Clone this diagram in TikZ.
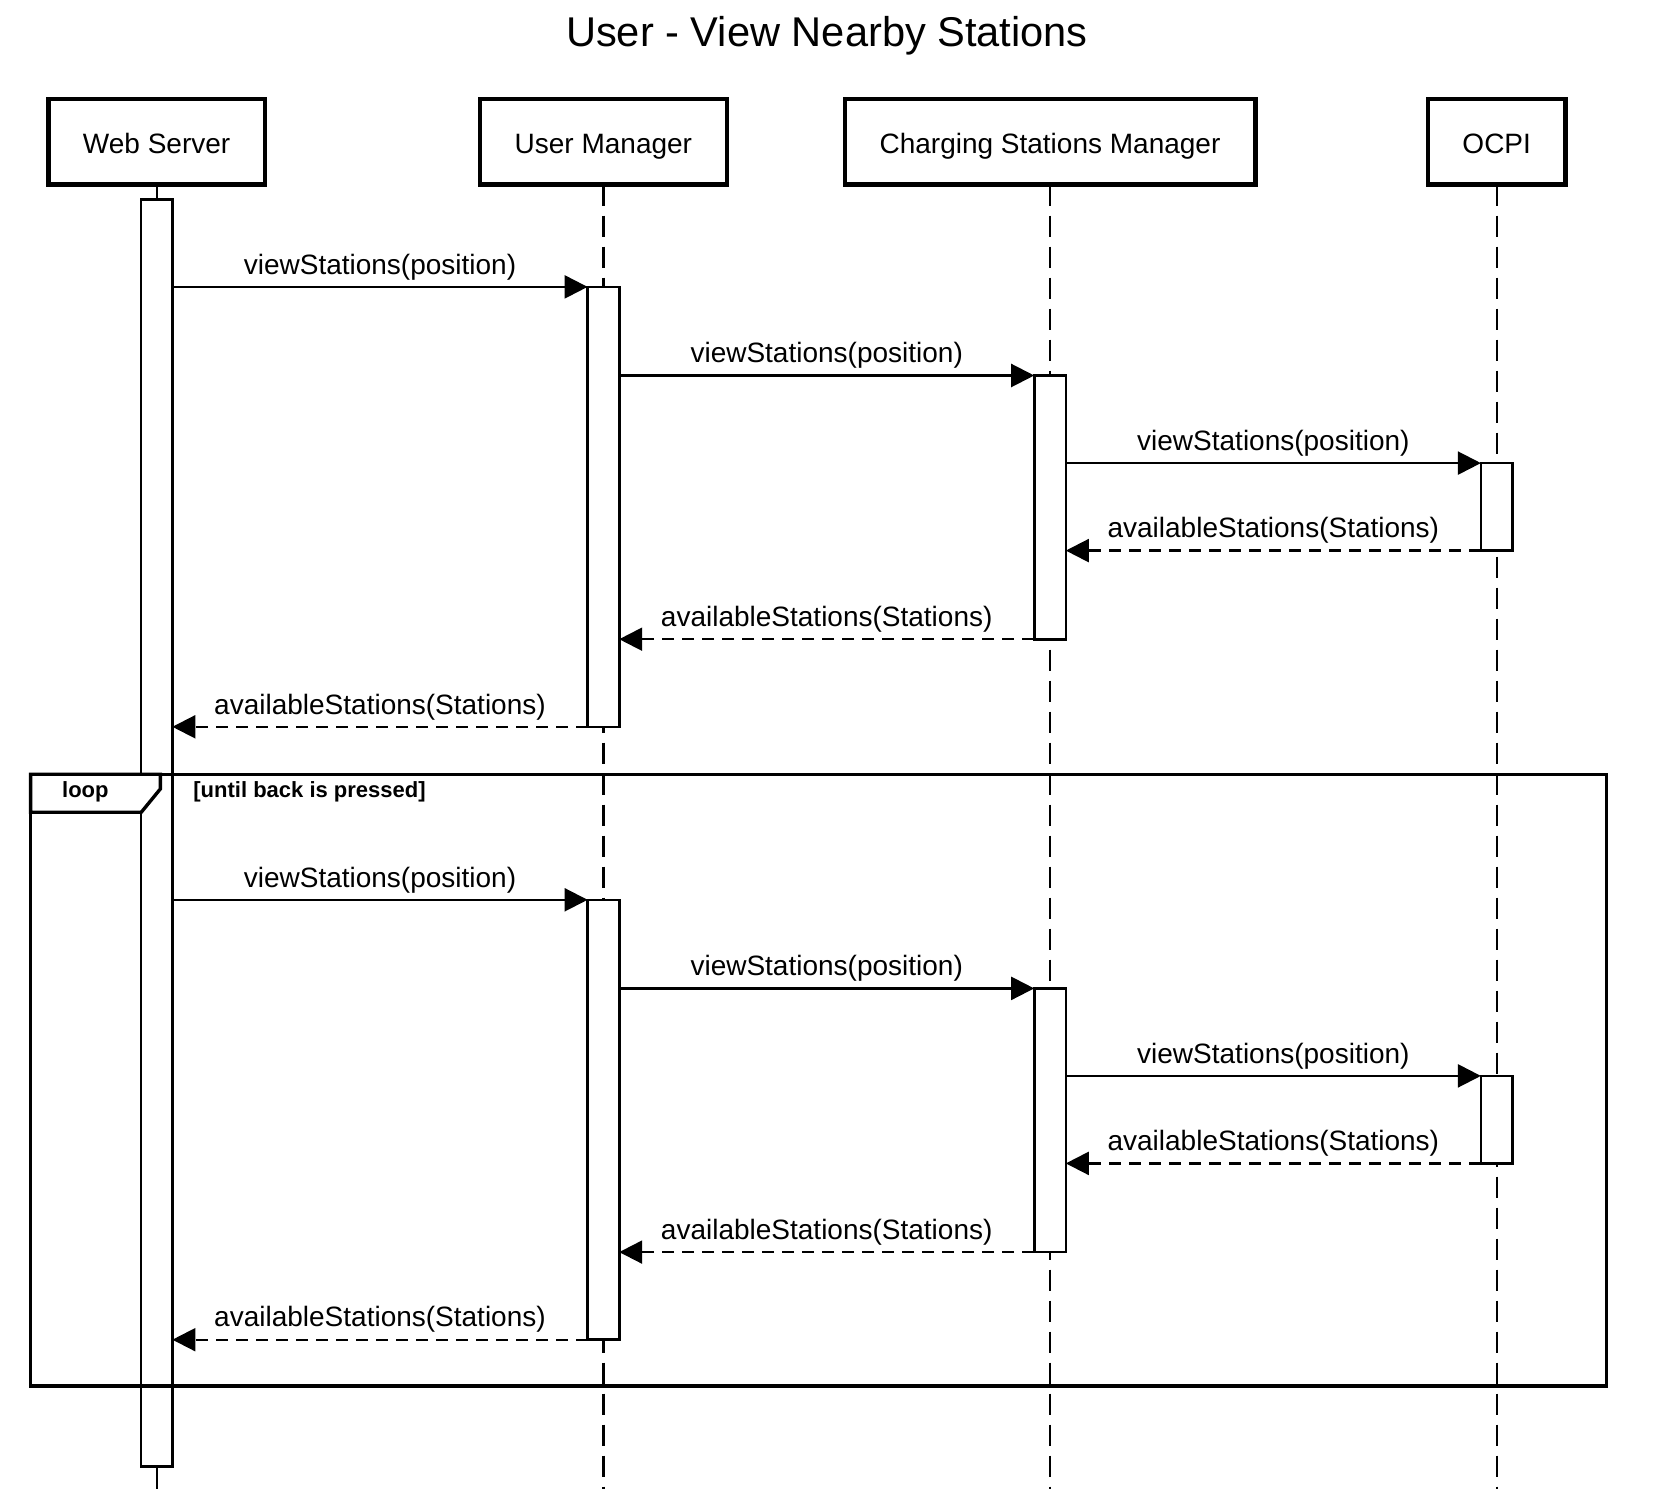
\documentclass[tikz,border=0pt]{standalone}
\usepackage{fontspec}
\setmainfont{Liberation Sans}
\usetikzlibrary{arrows.meta}
\begin{document}
\begin{tikzpicture}[x=0.5pt,y=-0.5pt,
 part/.style={draw, line width=2.3pt, minimum height=42.7pt, inner sep=0pt, outer sep=0pt, text height=11.6pt, text depth=0pt, font=\fontsize{14}{17}\selectfont},
 life/.style={line width=1.1pt, dash pattern=on 10.5pt off 5pt},
 sollife/.style={line width=1.1pt},
 act/.style={draw, fill=white, line width=1.3pt, minimum width=15.8pt, inner sep=0pt, outer sep=0pt, anchor=north},
 msg/.style={line width=1.1pt, -{Triangle[length=11.5pt,width=11.5pt]}},
 ret/.style={msg, dash pattern=on 6pt off 4pt},
 lbl/.style={midway, yshift=10pt, font=\fontsize{14}{17}\selectfont, inner sep=0pt},
 frame/.style={line width=1.7pt},
 ftext/.style={font=\fontsize{11}{13}\bfseries\selectfont, inner sep=0pt}]
\useasboundingbox (0,0) rectangle (1654,1497);
\node[font=\fontsize{20.8}{25}\selectfont] (title) at (827,35.9) {User - View Nearby Stations};
% participants
\node[part, minimum width=108.2pt] (ws) at (156.6,141.9) {Web Server};
\node[part, minimum width=123.4pt] (um) at (603.4,141.9) {User Manager};
\node[part, minimum width=205.2pt] (csm) at (1050,141.9) {Charging Stations Manager};
\node[part, minimum width=68.6pt] (ocpi) at (1496.7,141.9) {OCPI};
% lifelines
\coordinate (bot) at (0,1489.4);
\draw[sollife] (ws.south) -- (ws.south |- bot);
\draw[life] (um.south) -- (um.south |- bot);
\draw[life] (csm.south) -- (csm.south |- bot);
\draw[life] (ocpi.south) -- (ocpi.south |- bot);
% activations
\node[act, minimum height=633.4pt] (ws1) at (156.6,199.4) {};
\node[act, minimum height=219.95pt] (um1) at (603.4,286.9) {};
\node[act, minimum height=131.85pt] (csm1) at (1050,375.5) {};
\node[act, minimum height=43.75pt] (ocpi1) at (1496.7,463.1) {};
\node[act, minimum height=219.95pt] (um2) at (603.4,899.8) {};
\node[act, minimum height=131.85pt] (csm2) at (1050,988.4) {};
\node[act, minimum height=43.75pt] (ocpi2) at (1496.7,1075.9) {};
% messages, first round
\draw[msg] (ws1.east |- um1.north west) -- (um1.north west) node[lbl] {viewStations(position)};
\draw[msg] (um1.east |- csm1.north west) -- (csm1.north west) node[lbl] {viewStations(position)};
\draw[msg] (csm1.east |- ocpi1.north west) -- (ocpi1.north west) node[lbl] {viewStations(position)};
\draw[ret] (ocpi1.south west) -- (csm1.east |- ocpi1.south west) node[lbl] {availableStations(Stations)};
\draw[ret] (csm1.south west) -- (um1.east |- csm1.south west) node[lbl] {availableStations(Stations)};
\draw[ret] (um1.south west) -- (ws1.east |- um1.south west) node[lbl] {availableStations(Stations)};
% messages, loop
\draw[msg] (ws1.east |- um2.north west) -- (um2.north west) node[lbl] {viewStations(position)};
\draw[msg] (um2.east |- csm2.north west) -- (csm2.north west) node[lbl] {viewStations(position)};
\draw[msg] (csm2.east |- ocpi2.north west) -- (ocpi2.north west) node[lbl] {viewStations(position)};
\draw[ret] (ocpi2.south west) -- (csm2.east |- ocpi2.south west) node[lbl] {availableStations(Stations)};
\draw[ret] (csm2.south west) -- (um2.east |- csm2.south west) node[lbl] {availableStations(Stations)};
\draw[ret] (um2.south west) -- (ws1.east |- um2.south west) node[lbl] {availableStations(Stations)};
% loop frame
\draw[frame] (30.6,774.2) rectangle (1606.5,1386);
\draw[frame, fill=white] (30.6,774.2) -- (160.3,774.2) -- (160.3,789) -- (141.3,812.2) -- (30.6,812.2) -- cycle;
\node[ftext] (looplbl) at (85.4,792.2) {loop};
\node[ftext, anchor=west] (cond) at (193,792.2) {[until back is pressed]};
\end{tikzpicture}
\end{document}
